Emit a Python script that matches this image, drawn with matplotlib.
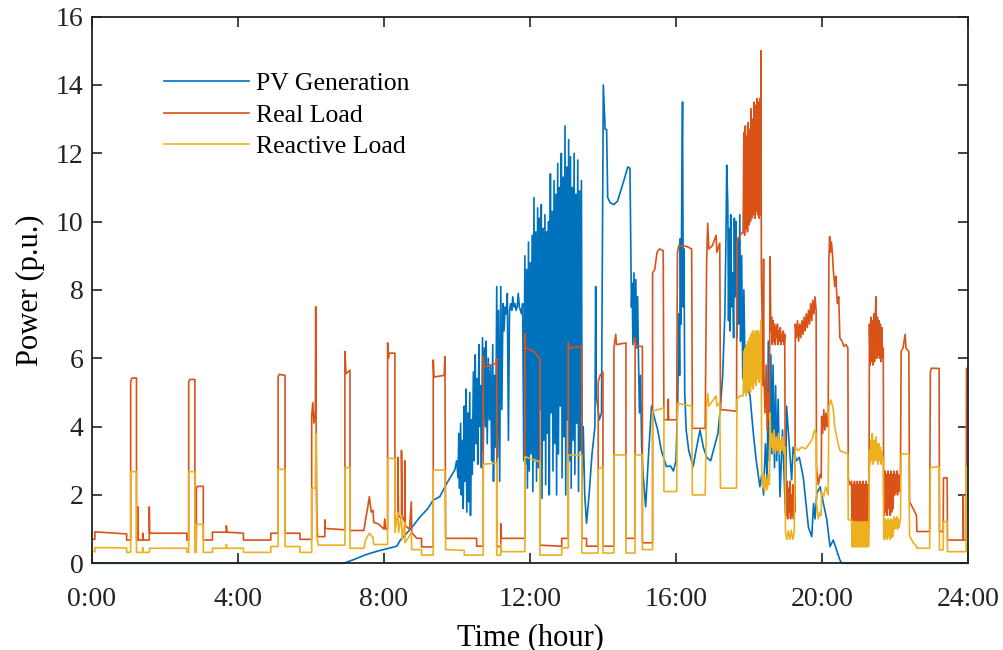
import matplotlib
matplotlib.use("Agg")
import matplotlib.pyplot as plt

plt.rcParams['font.family'] = ['Liberation Serif', 'DejaVu Serif']

# (hour, p.u.) samples for each series
pv_generation = [
    (0.00, 0.0), (6.89, 0.0), (7.20, 0.12), (7.50, 0.25), (7.80, 0.35), (8.10, 0.43),
    (8.35, 0.50), (8.45, 0.68), (8.60, 0.85), (8.80, 1.10), (8.99, 1.36), (9.20, 1.60),
    (9.35, 1.85), (9.53, 1.95), (9.72, 2.34), (9.94, 2.73), (9.99, 3.00),
    (10.03, 2.5), (10.05, 3.8), (10.07, 2.2), (10.10, 4.1), (10.12, 2.0), (10.15, 3.6),
    (10.17, 1.6), (10.20, 4.6), (10.22, 2.4), (10.25, 5.1), (10.27, 1.5), (10.30, 4.4),
    (10.32, 1.8), (10.35, 5.0), (10.37, 1.4), (10.40, 4.2), (10.42, 2.6), (10.45, 5.6),
    (10.47, 3.0), (10.50, 6.1), (10.52, 3.5), (10.55, 5.4), (10.57, 2.9), (10.60, 6.4),
    (10.62, 4.0), (10.65, 5.2), (10.67, 2.8), (10.70, 6.6), (10.72, 3.3), (10.75, 6.3),
    (10.78, 4.0), (10.80, 6.5), (10.83, 3.5), (10.86, 6.0), (10.89, 4.2), (10.92, 5.8),
    (10.95, 3.0), (10.98, 6.4), (11.00, 2.4), (11.03, 5.5), (11.06, 3.4), (11.09, 8.1),
    (11.11, 3.1), (11.14, 7.4), (11.17, 2.4), (11.20, 8.1), (11.23, 4.5), (11.26, 7.6),
    (11.29, 6.8), (11.32, 7.5), (11.35, 7.3), (11.38, 7.9), (11.41, 3.6), (11.44, 7.4),
    (11.47, 7.6), (11.50, 7.4), (11.53, 7.8), (11.56, 7.5), (11.59, 7.6), (11.62, 7.4),
    (11.65, 7.5), (11.68, 7.9), (11.71, 7.5), (11.74, 7.4), (11.77, 7.3), (11.80, 7.6),
    (11.83, 3.0), (11.86, 9.0), (11.88, 2.9), (11.91, 8.6), (11.93, 2.2), (11.96, 9.4),
    (11.98, 2.7), (12.01, 8.8), (12.03, 3.2), (12.06, 9.6), (12.08, 2.1), (12.11, 10.7),
    (12.13, 3.0), (12.16, 9.7), (12.18, 2.4), (12.21, 10.4), (12.23, 2.8), (12.26, 10.1),
    (12.28, 4.5), (12.31, 10.5), (12.33, 1.9), (12.36, 9.8), (12.38, 3.6), (12.41, 10.2),
    (12.43, 2.3), (12.46, 9.7), (12.48, 3.8), (12.51, 10.0), (12.53, 2.0), (12.56, 11.4),
    (12.58, 4.4), (12.61, 10.3), (12.63, 2.7), (12.66, 11.2), (12.68, 3.5), (12.71, 10.8),
    (12.73, 2.0), (12.76, 11.7), (12.78, 3.2), (12.81, 11.0), (12.83, 4.6), (12.86, 12.0),
    (12.88, 2.5), (12.91, 11.3), (12.93, 3.7), (12.96, 12.8), (12.98, 2.0), (13.01, 11.6),
    (13.03, 4.2), (13.06, 12.4), (13.08, 3.0), (13.11, 11.9), (13.13, 2.2), (13.16, 11.0),
    (13.18, 3.6), (13.21, 12.0), (13.23, 2.6), (13.26, 10.8), (13.28, 4.1), (13.31, 11.8),
    (13.33, 2.1), (13.36, 10.9), (13.38, 3.3), (13.41, 11.2), (13.43, 2.5), (13.46, 4.0),
    (13.50, 2.0), (13.55, 1.17), (13.62, 2.0), (13.70, 3.2), (13.78, 4.0), (13.80, 8.1),
    (13.82, 4.9), (13.90, 4.2), (13.96, 4.4), (14.01, 14.0), (14.06, 12.7), (14.10, 12.7),
    (14.13, 10.7), (14.20, 10.55), (14.30, 10.5), (14.40, 10.6), (14.50, 10.95),
    (14.60, 11.3), (14.68, 11.6), (14.74, 11.56), (14.78, 7.5), (14.80, 8.2), (14.82, 6.4),
    (14.85, 8.5), (14.87, 6.6), (14.90, 8.3), (14.92, 6.3), (14.95, 7.8), (14.97, 6.2),
    (15.00, 4.4), (15.03, 5.5), (15.06, 3.4), (15.10, 2.6), (15.17, 1.65), (15.25, 3.2),
    (15.33, 4.6), (15.40, 4.3), (15.50, 3.9), (15.60, 3.3), (15.74, 2.83), (15.85, 2.85),
    (15.93, 2.7), (16.00, 3.0), (16.05, 4.8), (16.08, 7.3), (16.10, 5.5), (16.12, 9.5),
    (16.14, 7.0), (16.16, 11.0), (16.18, 13.5), (16.20, 7.5), (16.22, 9.2), (16.24, 5.0),
    (16.28, 3.9), (16.35, 3.3), (16.47, 2.83), (16.55, 3.3), (16.66, 3.9), (16.75, 3.4),
    (16.84, 3.1), (16.95, 3.0), (17.05, 3.4), (17.15, 3.8), (17.22, 4.6), (17.28, 5.5),
    (17.34, 7.3), (17.37, 9.5), (17.39, 11.65), (17.42, 10.5), (17.44, 7.1), (17.46, 9.8),
    (17.48, 6.8), (17.50, 10.2), (17.52, 7.5), (17.55, 8.5), (17.58, 6.6), (17.60, 10.1),
    (17.62, 7.8), (17.65, 10.0), (17.67, 6.6), (17.70, 9.5), (17.72, 7.0), (17.75, 10.2),
    (17.77, 6.5), (17.80, 9.0), (17.83, 5.4), (17.86, 8.0), (17.90, 5.2), (17.95, 5.6),
    (18.00, 5.0), (18.03, 4.9), (18.12, 3.8), (18.20, 3.0), (18.30, 2.24), (18.35, 2.6),
    (18.40, 2.0), (18.45, 3.5), (18.50, 2.4), (18.53, 6.5), (18.56, 3.0), (18.60, 6.1),
    (18.63, 3.2), (18.66, 5.8), (18.70, 2.8), (18.73, 5.2), (18.76, 3.0), (18.80, 4.8),
    (18.85, 1.95), (18.92, 3.9), (18.96, 2.7), (19.00, 1.46), (19.03, 4.6), (19.07, 4.0),
    (19.12, 3.2), (19.17, 2.44), (19.21, 3.4), (19.30, 3.0), (19.38, 3.1), (19.49, 2.5),
    (19.58, 1.55), (19.63, 1.05), (19.72, 0.78), (19.77, 1.75), (19.81, 1.3), (19.86, 2.05),
    (19.95, 2.24), (20.04, 1.75), (20.13, 1.3), (20.22, 0.49), (20.31, 0.68), (20.49, 0.1),
    (20.54, 0.0), (24.00, 0.0),
]

real_load = [
    (0.00, 0.70), (0.08, 0.70), (0.08, 0.92), (0.95, 0.86), (0.95, 0.68), (1.06, 0.68),
    (1.06, 5.30), (1.09, 5.42), (1.22, 5.42), (1.22, 0.68), (1.26, 0.68), (1.26, 1.65),
    (1.27, 0.68), (1.39, 0.68), (1.39, 0.88), (1.41, 0.68), (1.57, 0.68), (1.57, 1.65),
    (1.58, 0.88), (2.60, 0.88), (2.60, 0.68), (2.65, 0.68), (2.65, 5.30), (2.68, 5.38),
    (2.82, 5.38), (2.82, 0.68), (2.86, 0.68), (2.86, 2.15), (2.88, 2.25), (3.05, 2.25),
    (3.05, 0.68), (3.30, 0.68), (3.30, 0.91), (3.68, 0.91), (3.68, 1.10), (3.70, 0.91),
    (4.15, 0.88), (4.15, 0.68), (4.90, 0.68), (4.90, 0.88), (5.10, 0.88), (5.10, 5.45),
    (5.13, 5.53), (5.29, 5.50), (5.29, 0.88), (5.70, 0.88), (5.70, 0.70), (6.02, 0.70),
    (6.02, 4.30), (6.05, 4.70), (6.08, 4.10), (6.12, 4.40), (6.13, 7.51), (6.14, 4.40),
    (6.16, 1.50), (6.18, 0.78), (6.38, 0.78), (6.38, 1.27), (6.39, 1.02), (6.93, 0.98),
    (6.93, 6.20), (6.96, 5.55), (7.07, 5.65), (7.07, 0.96), (7.45, 0.96), (7.50, 1.30),
    (7.55, 1.60), (7.60, 1.95), (7.65, 1.50), (7.70, 1.55), (7.72, 1.20), (7.85, 1.15),
    (8.00, 1.00), (8.02, 1.30), (8.05, 1.00), (8.10, 1.00), (8.10, 6.45), (8.12, 6.00),
    (8.15, 6.15), (8.30, 6.15), (8.30, 1.30), (8.38, 1.30), (8.38, 3.10), (8.40, 1.40),
    (8.48, 1.30), (8.48, 3.30), (8.50, 1.40), (8.57, 1.20), (8.57, 3.00), (8.58, 1.10),
    (8.70, 1.00), (8.75, 1.80), (8.76, 0.90), (8.90, 0.73), (9.03, 0.73), (9.03, 0.48),
    (9.35, 0.48), (9.35, 5.95), (9.37, 5.45), (9.65, 5.50), (9.67, 6.05), (9.69, 0.73),
    (10.54, 0.73), (10.54, 0.50), (10.72, 0.50), (10.72, 6.05), (10.74, 5.75), (11.07, 5.85),
    (11.09, 6.00), (11.09, 0.49), (11.20, 0.49), (11.20, 1.16), (11.22, 0.73), (11.86, 0.73),
    (11.86, 6.73), (11.88, 6.30), (12.10, 6.20), (12.27, 6.00), (12.27, 0.53), (12.87, 0.50),
    (12.87, 0.73), (13.05, 0.73), (13.05, 6.45), (13.08, 6.30), (13.42, 6.35), (13.42, 0.73),
    (13.55, 0.73), (13.55, 0.50), (13.87, 0.50), (13.87, 5.30), (13.92, 5.50), (14.00, 5.60),
    (14.00, 0.50), (14.30, 0.50), (14.30, 6.30), (14.35, 6.70), (14.37, 6.40), (14.63, 6.45),
    (14.63, 0.73), (14.88, 0.73), (14.88, 6.60), (14.91, 6.35), (15.08, 6.35), (15.08, 0.60),
    (15.36, 0.60), (15.36, 8.50), (15.42, 8.60), (15.48, 9.10), (15.55, 9.20), (15.65, 9.15),
    (15.67, 4.20), (15.78, 4.20), (15.79, 4.80), (15.80, 4.20), (16.02, 4.20), (16.04, 9.10),
    (16.08, 9.30), (16.30, 9.27), (16.43, 9.20), (16.45, 3.95), (16.80, 3.95), (16.84, 8.80),
    (16.87, 9.95), (16.90, 9.20), (17.00, 9.30), (17.10, 9.60), (17.12, 9.10), (17.20, 9.37),
    (17.22, 4.50), (17.66, 4.45), (17.67, 9.40), (17.75, 9.60), (17.84, 9.70),
    (17.86, 12.6), (17.88, 9.6), (17.90, 12.8), (17.92, 9.8), (17.94, 12.5), (17.96, 9.7),
    (17.98, 12.9), (18.00, 9.9), (18.02, 12.7), (18.04, 10.0), (18.06, 13.3), (18.08, 10.1),
    (18.10, 13.0), (18.12, 10.2), (18.14, 13.5), (18.16, 10.1), (18.18, 13.4), (18.20, 10.3),
    (18.22, 13.6), (18.24, 10.2), (18.26, 13.5), (18.28, 10.1), (18.30, 13.6), (18.32, 10.2),
    (18.33, 15.0), (18.34, 8.4), (18.36, 7.3), (18.38, 5.2), (18.40, 8.9), (18.41, 5.5),
    (18.44, 4.4), (18.47, 5.8), (18.50, 3.9), (18.53, 5.0), (18.56, 4.2), (18.58, 8.97),
    (18.60, 6.8), (18.62, 7.2), (18.64, 6.4), (18.66, 7.1), (18.68, 6.5), (18.70, 7.0),
    (18.72, 6.4), (18.74, 6.9), (18.76, 6.6), (18.78, 7.0), (18.80, 6.4), (18.82, 6.8),
    (18.84, 6.5), (18.86, 6.9), (18.88, 6.4), (18.90, 6.7), (18.92, 6.5), (18.94, 6.8),
    (18.96, 6.4), (18.98, 6.7), (18.99, 3.8), (19.00, 2.2), (19.02, 1.4), (19.04, 2.4),
    (19.06, 1.3), (19.08, 2.2), (19.10, 1.5), (19.12, 2.4), (19.14, 1.3), (19.16, 2.0),
    (19.18, 1.4), (19.20, 2.3), (19.22, 1.3), (19.24, 2.1), (19.26, 1.5), (19.27, 7.0),
    (19.30, 6.6), (19.33, 7.1), (19.36, 6.5), (19.39, 7.0), (19.42, 6.6), (19.45, 7.1),
    (19.48, 6.7), (19.51, 7.2), (19.54, 6.8), (19.57, 7.3), (19.60, 6.9), (19.63, 7.4),
    (19.66, 7.0), (19.69, 7.6), (19.72, 7.1), (19.75, 7.7), (19.78, 7.3), (19.81, 7.8),
    (19.84, 7.4), (19.85, 2.8), (19.90, 2.3), (19.95, 2.6), (19.98, 2.5), (19.99, 4.3),
    (20.02, 3.8), (20.05, 4.5), (20.08, 3.9), (20.11, 4.4), (20.14, 4.0), (20.17, 4.2),
    (20.19, 8.9), (20.21, 9.56), (20.23, 9.1), (20.26, 9.4), (20.29, 9.0), (20.31, 8.6),
    (20.35, 8.1), (20.38, 8.4), (20.42, 7.6), (20.46, 7.8), (20.49, 6.6), (20.55, 6.5),
    (20.60, 6.35), (20.66, 6.4), (20.71, 6.3), (20.72, 2.5), (20.76, 2.3), (20.81, 2.4),
    (20.83, 0.5), (20.85, 2.3), (20.87, 0.5), (20.89, 2.4), (20.91, 0.5), (20.93, 2.3),
    (20.95, 0.5), (20.97, 2.4), (20.99, 0.5), (21.01, 2.3), (21.03, 0.5), (21.05, 2.4),
    (21.07, 0.5), (21.09, 2.3), (21.11, 0.5), (21.13, 2.4), (21.15, 0.5), (21.17, 2.3),
    (21.19, 0.5), (21.21, 2.4), (21.23, 0.5), (21.25, 2.3), (21.27, 0.5), (21.29, 2.4),
    (21.30, 7.0), (21.32, 5.8), (21.34, 7.2), (21.36, 5.9), (21.38, 7.1), (21.40, 5.8),
    (21.42, 7.3), (21.44, 5.9), (21.46, 7.2), (21.48, 7.8), (21.50, 6.0), (21.52, 7.2),
    (21.54, 6.1), (21.56, 7.1), (21.58, 6.0), (21.60, 7.0), (21.62, 5.9), (21.64, 6.9),
    (21.66, 6.0), (21.68, 6.3), (21.69, 2.0), (21.71, 1.4), (21.73, 2.7), (21.75, 1.5),
    (21.77, 2.6), (21.79, 1.4), (21.81, 2.7), (21.83, 1.6), (21.85, 2.6), (21.87, 1.4),
    (21.89, 2.7), (21.91, 1.5), (21.93, 2.6), (21.95, 1.6), (21.97, 2.7), (21.99, 2.0),
    (22.01, 2.6), (22.03, 2.1), (22.05, 2.7), (22.07, 2.0), (22.09, 2.6), (22.11, 2.1),
    (22.13, 2.5), (22.15, 2.6), (22.17, 6.2), (22.22, 6.3), (22.28, 6.7), (22.30, 6.3),
    (22.38, 6.2), (22.40, 1.8), (22.50, 1.6), (22.59, 1.4), (22.60, 0.93), (22.95, 0.93),
    (22.97, 5.6), (23.00, 5.71), (23.21, 5.70), (23.22, 0.93), (23.32, 0.93), (23.33, 2.50),
    (23.43, 2.50), (23.44, 0.68), (23.87, 0.68), (23.87, 2.00), (23.88, 0.68), (23.95, 0.68),
    (23.96, 5.70), (24.00, 5.71),
]

reactive_load = [
    (0.00, 0.34), (0.08, 0.34), (0.08, 0.46), (0.95, 0.45), (0.95, 0.32), (1.06, 0.32),
    (1.06, 2.68), (1.22, 2.68), (1.22, 0.32), (1.39, 0.32), (1.39, 0.46), (1.41, 0.32),
    (1.57, 0.32), (1.58, 0.44), (2.60, 0.44), (2.60, 0.32), (2.65, 0.32), (2.65, 2.68),
    (2.82, 2.68), (2.82, 0.32), (2.86, 0.32), (2.86, 1.14), (3.05, 1.14), (3.05, 0.32),
    (3.30, 0.32), (3.30, 0.44), (3.68, 0.44), (3.68, 0.55), (3.70, 0.44), (4.15, 0.44),
    (4.15, 0.32), (4.90, 0.32), (4.90, 0.49), (5.10, 0.49), (5.10, 2.75), (5.29, 2.75),
    (5.29, 0.49), (5.70, 0.49), (5.70, 0.32), (6.02, 0.32), (6.02, 2.20), (6.12, 2.20),
    (6.13, 3.80), (6.14, 2.20), (6.16, 0.80), (6.20, 0.53), (6.93, 0.53), (6.93, 2.80),
    (7.07, 2.80), (7.07, 0.44), (7.45, 0.44), (7.50, 0.70), (7.60, 0.88), (7.70, 0.75),
    (7.72, 0.55), (8.10, 0.55), (8.10, 3.07), (8.30, 3.07), (8.30, 0.90), (8.38, 1.50),
    (8.40, 0.90), (8.48, 1.40), (8.50, 0.70), (8.57, 1.20), (8.58, 0.60), (8.75, 0.90),
    (8.76, 0.40), (9.03, 0.40), (9.03, 0.24), (9.35, 0.24), (9.35, 2.73), (9.67, 2.73),
    (9.69, 0.40), (10.20, 0.38), (10.20, 0.24), (10.72, 0.24), (10.72, 2.90), (11.09, 2.93),
    (11.09, 0.24), (11.20, 0.24), (11.20, 0.55), (11.22, 0.34), (11.86, 0.34), (11.86, 3.12),
    (12.27, 2.97), (12.27, 0.24), (12.87, 0.24), (12.87, 0.45), (13.05, 0.45), (13.05, 3.17),
    (13.42, 3.17), (13.42, 0.30), (13.87, 0.30), (13.87, 2.75), (14.00, 2.83), (14.00, 0.30),
    (14.30, 0.30), (14.30, 3.17), (14.63, 3.17), (14.63, 0.30), (14.88, 0.30), (14.88, 3.17),
    (15.08, 3.17), (15.08, 0.40), (15.36, 0.40), (15.36, 4.45), (15.67, 4.55), (15.67, 2.10),
    (16.02, 2.10), (16.04, 4.68), (16.43, 4.60), (16.45, 2.00), (16.80, 2.00), (16.84, 4.60),
    (16.87, 4.97), (16.90, 4.60), (17.10, 4.90), (17.12, 4.60), (17.20, 4.70), (17.22, 2.20),
    (17.66, 2.20), (17.67, 4.80), (17.75, 4.90), (17.84, 4.90),
    (17.86, 6.2), (17.88, 5.0), (17.90, 6.3), (17.92, 4.9), (17.94, 6.4), (17.96, 5.0),
    (17.98, 6.5), (18.00, 5.1), (18.02, 6.6), (18.04, 5.0), (18.06, 6.7), (18.08, 5.2),
    (18.10, 6.8), (18.12, 5.1), (18.14, 6.7), (18.16, 5.3), (18.18, 6.8), (18.20, 5.2),
    (18.22, 6.8), (18.24, 5.4), (18.26, 6.8), (18.28, 5.3), (18.30, 6.7), (18.32, 5.4),
    (18.33, 7.1), (18.35, 2.6), (18.38, 2.2), (18.40, 2.6), (18.43, 2.1), (18.46, 2.5),
    (18.50, 2.15), (18.53, 2.6), (18.56, 2.3), (18.58, 4.4), (18.60, 3.4), (18.63, 3.8),
    (18.66, 3.3), (18.69, 3.9), (18.72, 3.2), (18.75, 3.7), (18.78, 3.3), (18.81, 3.8),
    (18.84, 3.2), (18.87, 3.6), (18.90, 3.3), (18.93, 3.7), (18.96, 3.2), (18.99, 3.4),
    (19.00, 0.90), (19.04, 0.70), (19.08, 0.95), (19.12, 0.70), (19.16, 0.97), (19.20, 0.70),
    (19.24, 0.90), (19.27, 3.40), (19.35, 3.30), (19.45, 3.40), (19.55, 3.35), (19.65, 3.50),
    (19.72, 3.60), (19.80, 3.90), (19.84, 3.80), (19.85, 1.80), (19.90, 1.30), (19.95, 1.50),
    (19.98, 1.40), (19.99, 2.10), (20.05, 1.95), (20.10, 2.24), (20.17, 2.00), (20.19, 4.60),
    (20.25, 4.78), (20.31, 4.50), (20.35, 4.00), (20.42, 3.60), (20.49, 3.30), (20.60, 3.25),
    (20.71, 3.20), (20.72, 1.27), (20.81, 1.27),
    (20.83, 0.48), (20.85, 1.22), (20.87, 0.48), (20.89, 1.20), (20.91, 0.48), (20.93, 1.22),
    (20.95, 0.48), (20.97, 1.20), (20.99, 0.48), (21.01, 1.22), (21.03, 0.48), (21.05, 1.20),
    (21.07, 0.48), (21.09, 1.22), (21.11, 0.48), (21.13, 1.20), (21.15, 0.48), (21.17, 1.22),
    (21.19, 0.48), (21.21, 1.20), (21.23, 0.48), (21.25, 1.22), (21.27, 0.48), (21.29, 1.20),
    (21.30, 3.3), (21.32, 2.9), (21.34, 3.6), (21.36, 3.0), (21.38, 3.8), (21.40, 2.9),
    (21.42, 3.6), (21.44, 3.0), (21.46, 3.5), (21.48, 3.7), (21.50, 3.0), (21.52, 3.5),
    (21.54, 2.9), (21.56, 3.5), (21.58, 3.0), (21.60, 3.4), (21.62, 2.9), (21.64, 3.3),
    (21.66, 3.0), (21.68, 3.1), (21.69, 1.0), (21.71, 0.70), (21.73, 1.30), (21.75, 0.75),
    (21.77, 1.25), (21.79, 0.70), (21.81, 1.30), (21.83, 0.80), (21.85, 1.25), (21.87, 0.70),
    (21.89, 1.30), (21.91, 0.75), (21.93, 1.25), (21.95, 0.80), (21.97, 1.36), (21.99, 1.00),
    (22.01, 1.30), (22.03, 1.05), (22.05, 1.36), (22.07, 1.00), (22.09, 1.30), (22.11, 1.05),
    (22.13, 1.20), (22.15, 1.25), (22.17, 3.20), (22.38, 3.20), (22.40, 0.80), (22.50, 0.60),
    (22.59, 0.50), (22.60, 0.44), (22.95, 0.44), (22.97, 2.80), (23.21, 2.83), (23.22, 0.39),
    (23.32, 0.39), (23.33, 1.22), (23.43, 1.22), (23.44, 0.34), (23.95, 0.34), (23.96, 2.83),
    (24.00, 2.83),
]

hour_ticks = [0, 4, 8, 12, 16, 20, 24]
hour_labels = ['0:00', '4:00', '8:00', '12:00', '16:00', '20:00', '24:00']

fig = plt.figure(figsize=(10.04, 6.5), dpi=100)
ax = fig.add_axes([0.0916, 0.1334, 0.8725, 0.8411])

series = [
    (pv_generation, '#0072BD', 'PV Generation'),
    (real_load, '#D95319', 'Real Load'),
    (reactive_load, '#EDB120', 'Reactive Load'),
]
for pts, color, name in series:
    t, p = zip(*pts)
    ax.plot(t, p, color=color, lw=1.2, label=name, clip_on=(name != 'PV Generation'))

ax.set_xlim(0, 24)
ax.set_ylim(0, 16)
ax.set_xticks(hour_ticks)
ax.set_xticklabels(hour_labels)
ax.set_yticks(range(0, 17, 2))
ax.tick_params(direction='in', top=True, right=True, length=7, width=1.2,
               labelsize=20, colors='#222222', labelcolor='#222222')
ax.tick_params(axis='x', pad=17)
ax.tick_params(axis='y', pad=6)
for sp in ax.spines.values():
    sp.set_linewidth(1.3)
    sp.set_color('#222222')

ax.set_xlabel('Time (hour)', fontsize=22, labelpad=8)
ax.set_ylabel('Power (p.u.)', fontsize=22, labelpad=8)

ax.legend(loc='upper left', bbox_to_anchor=(0.082, 0.898), frameon=False,
          fontsize=18.5, handlelength=3.3, handletextpad=0.3, labelspacing=0.33,
          borderpad=0, borderaxespad=0)

fig.savefig('out.png', dpi=100)
